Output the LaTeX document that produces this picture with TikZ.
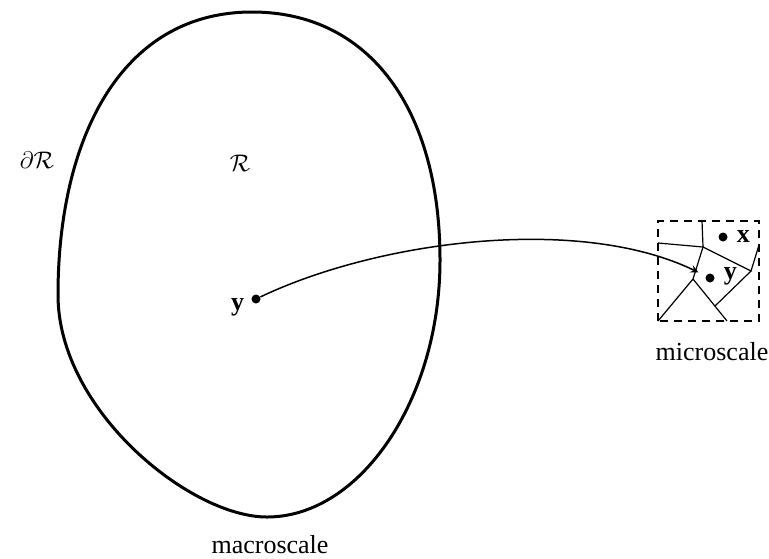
\documentclass[tikz,border=0pt]{standalone}
\usepackage{fontspec}
\setmainfont{Liberation Serif}
\usetikzlibrary{arrows, positioning}

\begin{document}
\begin{tikzpicture}[x=0.5pt, y=-0.5pt, font=\fontsize{13}{15}\selectfont,
            dot/.style={circle, fill=black, inner sep=0pt, minimum size=4.5pt},
            boundary/.style={line width=1.5pt},
            cell/.style={line width=0.6pt},
            arrow/.style={line width=0.75pt,->,>=stealth}]
            \useasboundingbox (0,0) rectangle (769,558);

            % Macroscale region
            \coordinate (top) at (252,12);
            \coordinate (right) at (440,260);
            \coordinate (bottom) at (267,517);
            \coordinate (left) at (58,295);
            \draw [boundary] (top) .. controls (370,12) and (440,110) .. (right)
                .. controls (440,400) and (360,517) .. (bottom)
                .. controls (190,517) and (58,410) .. (left)
                .. controls (58,140) and (120,12) .. (top) -- cycle;
            \node (dR) at (37,160) {$\partial\mathcal{R}$};
            \node (R) at (240,163) {$\mathcal{R}$};
            \node (macro) at (270,545) {macroscale};
            \node (ymac) [dot] at (256,299) {};
            \node (ymaclab) [left=0pt of ymac, yshift=-4pt] {\textbf{y}};

            % Microscale cell
            \coordinate (bl) at (658,321);
            \coordinate (tr) at (759,221);
            \draw [cell, dashed, line width=0.8pt, dash pattern=on 4pt off 3pt] (bl) rectangle (tr);
            \coordinate (c1) at (702,221);
            \coordinate (c2) at (703,247);
            \coordinate (c3) at (658,243);
            \coordinate (c4) at (751,271);
            \coordinate (c5) at (759,245);
            \coordinate (c6) at (693,279);
            \coordinate (c7) at (727,321);
            \coordinate (c8) at (715,306);
            \draw [cell] (c1) -- (c2) -- (c4) -- (c5);
            \draw [cell] (c3) -- (c2) -- (c6) -- (bl);
            \draw [cell] (c6) -- (c7);
            \draw [cell] (c4) -- (c8);
            \node (xmic) [dot] at (723,237) {};
            \node (xmiclab) [right=1pt of xmic] {\textbf{x}};
            \node (ymic) [dot] at (710,278) {};
            \node (ymiclab) [right=1pt of ymic, yshift=1pt] {\textbf{y}};
            \node (micro) at (712,352) {microscale};

            % Map
            \draw [arrow, shorten >=4pt] (ymac) .. controls (380,240) and (580,215) .. (ymic);
        \end{tikzpicture}
\end{document}
